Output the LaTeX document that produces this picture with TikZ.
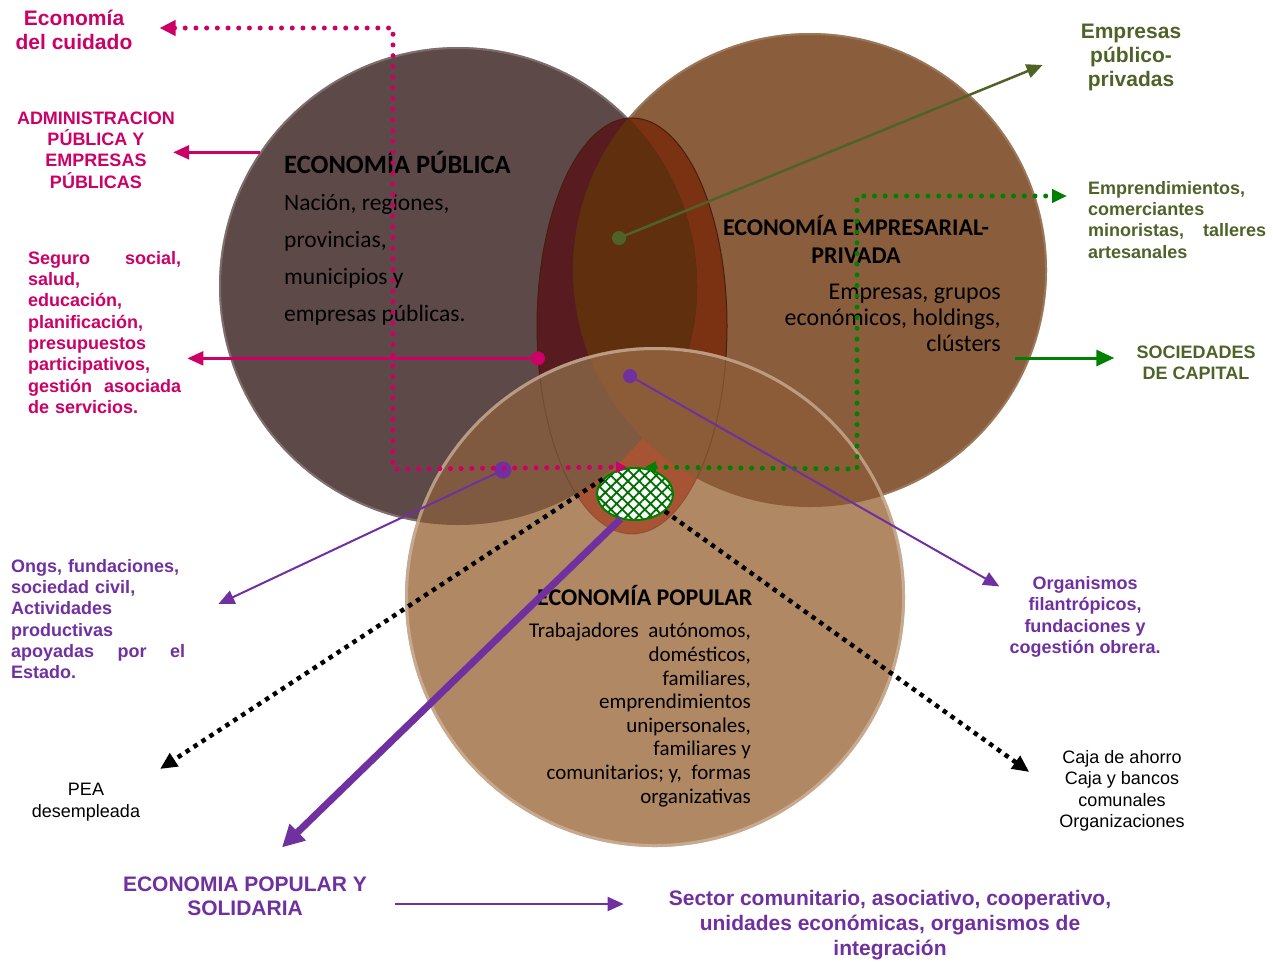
\documentclass[tikz,border=0pt]{standalone}
\usepackage{fontspec}
\setmainfont{Liberation Sans}
\newfontfamily\calibri{Carlito}
\usetikzlibrary{arrows.meta}
\usetikzlibrary{shapes.geometric}
\usetikzlibrary{patterns.meta}
\newcommand{\fsz}[2]{\fontsize{#1}{#2}\selectfont}
\definecolor{rosa}{RGB}{204,0,102}
\definecolor{oliva}{RGB}{79,98,40}
\definecolor{verde}{RGB}{0,128,0}
\definecolor{morado}{RGB}{112,48,160}
\definecolor{cPub}{RGB}{94,73,73}
\definecolor{cPriv}{RGB}{138,94,60}
\definecolor{cPop}{RGB}{176,136,100}
\definecolor{cEll}{RGB}{122,50,18}
\definecolor{cEllPub}{RGB}{88,28,32}
\definecolor{cLens}{RGB}{96,48,14}
\definecolor{cPubPop}{RGB}{128,90,64}
\definecolor{cPrivPop}{RGB}{140,92,56}
\definecolor{cEllPop}{RGB}{166,84,52}
\tikzset{
	circulo/.style={circle, inner sep=0pt, outer sep=0pt},
	punto/.style={circle, inner sep=0pt, minimum size=14pt},
	texto/.style={inner sep=0pt, font=\bfseries\fsz{18}{21.3}},
	textogr/.style={inner sep=0pt, font=\bfseries\fsz{21}{24}},
	textofino/.style={inner sep=0pt, font=\fsz{18}{21.5}},
	titulo/.style={inner sep=0pt, font=\calibri\bfseries\fsz{24}{27.5}},
	cuerpo/.style={inner sep=0pt, font=\calibri\fsz{21}{23.6}},
	flecha/.style={line width=2.5pt, -{Triangle[length=16pt,width=14pt]}},
	puntos/.style={line width=5pt, line cap=round, dash pattern=on 0pt off 10.7pt},
	cuadros/.style={line width=4.5pt, dash pattern=on 4.5pt off 5pt, -{Triangle[length=17pt,width=15pt]}},
	nucleo/.style={ellipse, draw=verde, line width=2pt, minimum width=76pt, minimum height=52pt, inner sep=0pt,
		preaction={fill=white}, pattern={Hatch[angle=45,distance=8pt,line width=1.8pt]}, pattern color=verde!85!black},
}
\begin{document}
\begin{tikzpicture}[x=1pt,y=-1pt]
	\useasboundingbox (0,0) rectangle (1273,962);
	% circulos y lente
	\node[circulo, fill=cPub, minimum size=478pt] (pub) at (458,286) {};
	\draw[cPub!60!white, line width=2pt, opacity=.5] (pub.center) circle (238);
	\node[circulo, fill=cPriv, minimum size=474pt] (priv) at (810,270) {};
	\draw[cPriv!70!white, line width=2pt, opacity=.5] (priv.center) circle (236);
	\node[ellipse, fill=cEll, minimum width=190pt, minimum height=416pt, inner sep=0pt] (lente) at (632,326) {};
	\begin{scope}
		\clip (lente.center) ellipse [x radius=95, y radius=208];
		\fill[cEllPub] (pub.center) circle (239);
		\clip (pub.center) circle (239);
		\fill[cLens] (priv.center) circle (237);
	\end{scope}
	\draw[cEll!60!black, line width=1pt] (lente.center) ellipse [x radius=95, y radius=208];
	\node[circulo, fill=cPop, minimum size=500pt] (pop) at (655,597) {};
	\begin{scope}
		\clip (pop.center) circle (250);
		\fill[cEllPop] (lente.center) ellipse [x radius=95, y radius=208];
		\fill[cPubPop] (pub.center) circle (239);
		\fill[cPrivPop] (priv.center) circle (237);
		\draw[cEll!60!black, line width=1pt, opacity=.25] (lente.center) ellipse [x radius=95, y radius=208];
	\end{scope}
	\draw[cPop!60!white, line width=3pt, opacity=.7] (pop.center) circle (248.5);

	% textos de los circulos
	\node[titulo, font=\calibri\bfseries\fsz{26.5}{30}, anchor=base west] (pubTit) at (284,173) {ECONOMÍA PÚBLICA};
	\node[cuerpo, font=\calibri\fsz{23.5}{36.7}, align=left, anchor=base west] (pubTxt) at (284,321)
		{Nación, regiones,\\provincias,\\municipios y\\empresas públicas.};
	\node[titulo, align=center, anchor=base] (privTit) at (856,263) {ECONOMÍA EMPRESARIAL-\\PRIVADA};
	\node[cuerpo, font=\calibri\fsz{24}{25.8}, align=right, anchor=base east] (privTxt) at (1001,351)
		{Empresas, grupos\\económicos, holdings,\\clústers};
	\node[titulo, anchor=base west] (popTit) at (537,605) {ECONOMÍA POPULAR};
	\node[cuerpo, align=right, anchor=base east] (popTxt) at (751,803)
		{Trabajadores\ \ autónomos,\\domésticos,\\familiares,\\emprendimientos\\unipersonales,\\familiares y\\comunitarios; y,\ \ formas\\organizativas};

	% etiquetas
	\node[textogr, text=rosa, align=center] (cuidado) at (74,30) {Economía\\del cuidado};
	\node[texto, text=rosa, align=center] (admin) at (96,150) {ADMINISTRACION\\PÚBLICA Y\\EMPRESAS\\PÚBLICAS};
	\node[texto, text=rosa, text width=153pt, align=left, anchor=north west] (seguro) at (28,251)
		{Seguro\hfill social,\\salud,\\educación,\\planificación,\\presupuestos\\participativos,\\gestión\hfill asociada\\de servicios.};
	\node[textogr, text=oliva, align=center] (pubpriv) at (1131,57) {Empresas\\público-\\privadas};
	\node[texto, text=oliva, text width=178pt, align=left, anchor=north west] (emp) at (1088,181)
		{Emprendimientos,\\comerciantes\\minoristas,\hfill talleres\\artesanales};
	\node[texto, text=oliva, align=center] (soc) at (1196,363) {SOCIEDADES\\DE CAPITAL};
	\node[texto, text=morado, text width=174pt, align=left, anchor=north west] (ongs) at (11,559)
		{Ongs, fundaciones,\\sociedad civil,\\Actividades\\productivas\\apoyadas\hfill por\hfill el\\Estado.};
	\node[texto, text=morado, align=center] (org) at (1085,617)
		{Organismos\\filantrópicos,\\fundaciones y\\cogestión obrera.};
	\node[textofino, align=center] (caja) at (1122,791)
		{Caja de ahorro\\Caja y bancos\\comunales\\Organizaciones};
	\node[textofino, align=center] (pea) at (86,802) {PEA\\desempleada};
	\node[textogr, text=morado, align=center] (eps) at (245,896) {ECONOMIA POPULAR Y\\SOLIDARIA};
	\node[textogr, font=\bfseries\fsz{21}{25}, text=morado, align=center] (sector) at (890,925)
		{Sector comunitario, asociativo, cooperativo,\\unidades económicas, organismos de\\integración};

	% nucleo y puntos
	\node[nucleo] (nucleo) at (635,494) {};
	\node[punto, fill=rosa] (pRosa) at (lente.199) {};
	\node[punto, fill=oliva] (pOliva) at (619,238) {};
	\node[punto, fill=morado] (pMor1) at (630,376) {};
	\node[punto, fill=morado, minimum size=17pt] (pMor2) at (503,470) {};
	\coordinate (esqR) at (393,469);
	\coordinate (esqV) at (857,469);
	\coordinate (socIni) at (1015,358);
	\coordinate (abajo) at (395,904);

	% conectores
	\draw[rosa, flecha] (pub.146) -- ([xshift=-2pt]admin.east |- pub.146);
	\draw[rosa, flecha] (pRosa.center) -- ([xshift=6pt]seguro.east |- pRosa.center);
	\draw[puntos, rosa, {Triangle[length=16pt,width=15pt]}-{Triangle[length=11pt,width=11pt]}]
		([xshift=27pt,yshift=2pt]cuidado.east) -| (esqR) -- ([xshift=-8pt]nucleo.north);
	\draw[puntos, verde, {Triangle[length=11pt,width=11pt]}-{Triangle[length=15pt,width=13pt]}]
		([xshift=10pt]nucleo.north) -- (esqV) |- ([xshift=-21pt,yshift=-15pt]emp.north west);
	\draw[oliva, flecha] (pOliva.center) -- ([xshift=-38pt,yshift=-8pt]pubpriv.west);
	\draw[verde, flecha, line width=3pt, -{Triangle[length=18pt,width=16pt]}] (socIni) -- ([xshift=-22pt]soc.west |- socIni);
	\draw[morado, flecha, line width=2pt] (pMor1.center) -- ([xshift=-10pt,yshift=-10pt]org.north west);
	\draw[morado, flecha, line width=2pt] (pMor2.center) -- ([xshift=33pt,yshift=-45pt]ongs.north east);
	\draw[cuadros] (nucleo.155) -- ([xshift=74pt,yshift=14pt]pea.north);
	\draw[cuadros] (nucleo.-30) -- ([xshift=-30pt,yshift=19pt]caja.west);
	\draw[morado, line width=7pt, -{Triangle[length=22pt,width=22pt]}] (nucleo.-120) -- ([xshift=37pt,yshift=29pt]eps.north);
	\draw[morado, flecha, line width=2pt] (abajo) -- ([xshift=-45pt]sector.west |- abajo);
\end{tikzpicture}
\end{document}
